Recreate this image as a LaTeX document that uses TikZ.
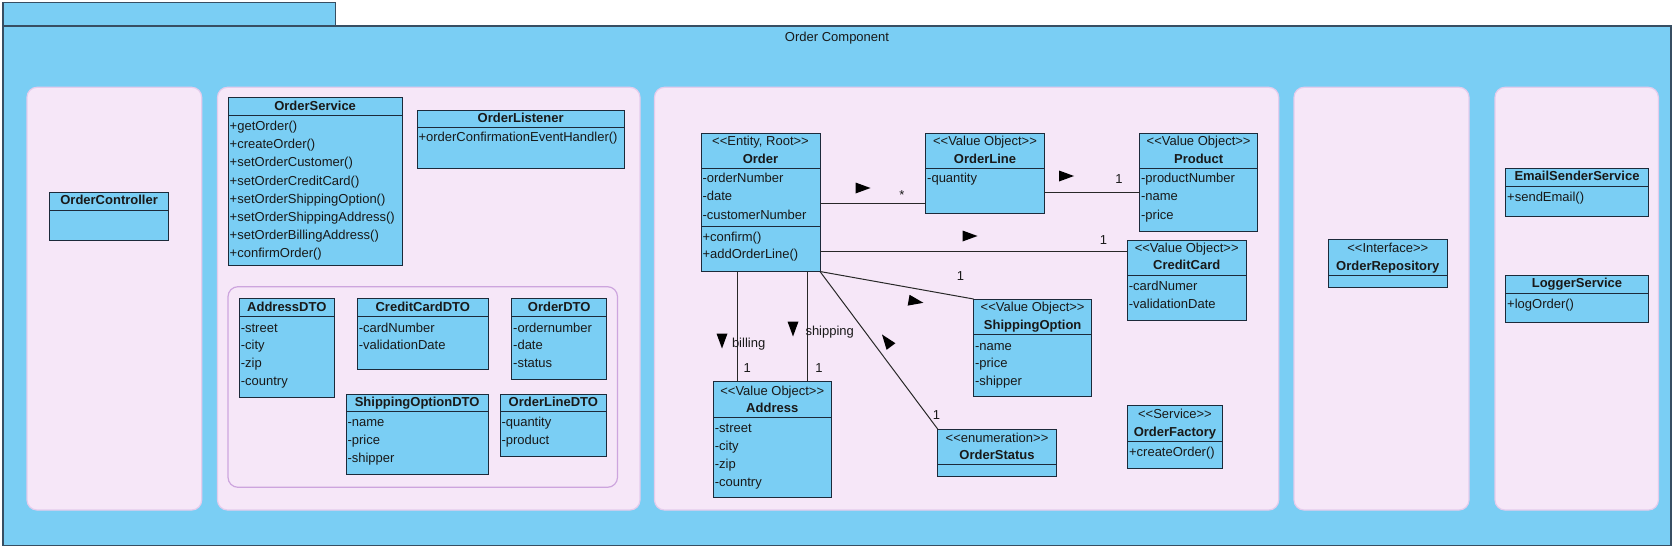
\documentclass[tikz,border=0pt]{standalone}
\usepackage{fontspec}
\setmainfont{Liberation Sans}[Ligatures=TeXOff]
\usetikzlibrary{calc}
\definecolor{framefill}{RGB}{122,206,244}
\definecolor{frameline}{RGB}{55,78,98}
\definecolor{boxfill}{RGB}{122,206,244}
\definecolor{boxline}{RGB}{28,42,58}
\definecolor{panelfill}{RGB}{246,231,248}
\definecolor{panelline}{RGB}{228,204,236}
\definecolor{dtoline}{RGB}{205,165,222}
\definecolor{txtc}{RGB}{25,25,25}
\definecolor{linec}{RGB}{40,40,40}
\tikzset{
  cls/.style={draw=boxline, fill=boxfill, line width=1pt, inner sep=0pt, outer sep=0pt, anchor=north west},
  sepline/.style={draw=boxline, line width=1pt},
  txt/.style={inner sep=0pt, outer sep=0pt, text height=9.4pt, text depth=2.6pt, font=\fontsize{13}{15}\selectfont, text=txtc},
  ttl/.style={txt, font=\fontsize{13}{15}\selectfont\bfseries},
  attr/.style={txt, anchor=west},
  panel/.style={draw=panelline, fill=panelfill, rounded corners=10pt, line width=1.2pt},
  assoc/.style={draw=linec, line width=1pt},
  frame/.style={draw=frameline, fill=framefill, line width=1.4pt},
}
\newcommand{\uclass}[5]{\node[cls, minimum width={#4-#2}, minimum height={#5-#3}] (#1) at (#2,#3) {};}
\newcommand{\usep}[2]{\coordinate (tmp) at (0,#2); \draw[sepline] (#1.west |- tmp) -- (#1.east |- tmp);}
\newcommand{\ctitle}[3]{\coordinate (tmp) at (0,#2); \node[ttl] at (#1.north |- tmp) {#3};}
\newcommand{\cstereo}[3]{\coordinate (tmp) at (0,#2); \node[txt] at (#1.north |- tmp) {#3};}
\newcommand{\rows}[4]{\foreach \r [count=\i from 0] in {#4} {\coordinate (tmp) at (0,{#2+#3*\i}); \node[attr, xshift=1.5pt] at (#1.west |- tmp) {\r};}}
\newcommand{\dirtri}[3]{\fill[black, shift={(#1,#2)}, rotate=#3] (7.5,0) -- (-7.5,5.5) -- (-7.5,-5.5) -- cycle;}
\begin{document}
\begin{tikzpicture}[x=1pt,y=-1pt]
\useasboundingbox (0,0) rectangle (1676,551);
% frame
\draw[frame] (2.8,26) rectangle (1671,545.7);
\draw[frame] (2.8,2.7) rectangle (335.7,26);
\node[txt] (title) at (837,38.5) {Order Component};
% panels
\draw[panel] (27,87.3) rectangle (201.7,510);
\draw[panel] (217.5,87.3) rectangle (640,510);
\draw[panel] (654.5,87.3) rectangle (1278.7,510);
\draw[panel] (1294,87.3) rectangle (1469,510);
\draw[panel] (1495,87.3) rectangle (1658.4,510);
\draw[panel, draw=dtoline] (228,286.7) rectangle (617.5,487.3);

% classes
\uclass{ctrl}{49.4}{192.3}{168.8}{240}
\usep{ctrl}{210.3}
\ctitle{ctrl}{201.3}{OrderController}

\uclass{svc}{228.2}{97.7}{402.1}{265.5}
\usep{svc}{115.7}
\ctitle{svc}{106.7}{OrderService}
\rows{svc}{127.3}{18.1}{+getOrder(),+createOrder(),+setOrderCustomer(),+setOrderCreditCard(),+setOrderShippingOption(),+setOrderShippingAddress(),+setOrderBillingAddress(),+confirmOrder()}

\uclass{lst}{417}{110.7}{624.3}{168.3}
\usep{lst}{127.7}
\ctitle{lst}{119.2}{OrderListener}
\rows{lst}{138.3}{18}{+orderConfirmationEventHandler()}

\uclass{adto}{239.3}{298.7}{334.3}{397}
\usep{adto}{316.7}
\ctitle{adto}{307.7}{AddressDTO}
\rows{adto}{328.7}{17.8}{-street,-city,-zip,-country}

\uclass{ccdto}{357.3}{298.7}{488.3}{369.3}
\usep{ccdto}{316.7}
\ctitle{ccdto}{307.7}{CreditCardDTO}
\rows{ccdto}{328.7}{17.8}{-cardNumber,-validationDate}

\uclass{odto}{511.7}{298.7}{606.7}{379}
\usep{odto}{316.7}
\ctitle{odto}{307.7}{OrderDTO}
\rows{odto}{328.7}{17.8}{-ordernumber,-date,-status}

\uclass{sodto}{346}{394}{488.3}{474}
\usep{sodto}{411.7}
\ctitle{sodto}{402.8}{ShippingOptionDTO}
\rows{sodto}{423.3}{17.8}{-name,-price,-shipper}

\uclass{oldto}{500}{394}{606.7}{456.7}
\usep{oldto}{411.7}
\ctitle{oldto}{402.8}{OrderLineDTO}
\rows{oldto}{423.3}{17.8}{-quantity,-product}

% connectors (under the domain boxes)
\coordinate (yOL) at (0,203);
\coordinate (yPR) at (0,192.3);
\coordinate (yCC) at (0,251.7);
\coordinate (xB) at (737,0);
\coordinate (xS) at (807.8,0);

\uclass{order}{701}{133}{820}{271.5}
\uclass{ol}{925.7}{133}{1044.3}{213.7}
\uclass{prod}{1139.6}{133}{1257.7}{231.7}
\uclass{cc}{1127.4}{240}{1246}{320}
\uclass{so}{973.5}{299}{1091.8}{396.7}
\uclass{addr}{713.3}{381.7}{831.2}{497.7}
\uclass{ost}{937.8}{429.2}{1056.3}{476.4}

\draw[assoc] (order.east |- yOL) -- (ol.west |- yOL);
\draw[assoc] (ol.east |- yPR) -- (prod.west |- yPR);
\draw[assoc] (order.east |- yCC) -- (cc.west |- yCC);
\draw[assoc] (order.south east) -- (so.north west);
\draw[assoc] (order.south east) -- (ost.north west);
\draw[assoc] (order.south -| xB) -- (addr.north -| xB);
\draw[assoc] (order.south -| xS) -- (addr.north -| xS);

\cstereo{order}{142}{<<Entity, Root>>}
\ctitle{order}{160.3}{Order}
\usep{order}{168.7}
\rows{order}{179.3}{18.2}{-orderNumber,-date,-customerNumber}
\usep{order}{226.7}
\rows{order}{237.8}{17.5}{+confirm(),+addOrderLine()}

\cstereo{ol}{142}{<<Value Object>>}
\ctitle{ol}{160.3}{OrderLine}
\usep{ol}{168.7}
\rows{ol}{179.3}{18}{-quantity}

\cstereo{prod}{142}{<<Value Object>>}
\ctitle{prod}{160.3}{Product}
\usep{prod}{168.7}
\rows{prod}{179.3}{18.2}{-productNumber,-name,-price}

\cstereo{cc}{249}{<<Value Object>>}
\ctitle{cc}{266.5}{CreditCard}
\usep{cc}{275}
\rows{cc}{286.7}{18.3}{-cardNumer,-validationDate}

\cstereo{so}{308.3}{<<Value Object>>}
\ctitle{so}{325.7}{ShippingOption}
\usep{so}{334.3}
\rows{so}{346.7}{17.7}{-name,-price,-shipper}

\cstereo{addr}{392.3}{<<Value Object>>}
\ctitle{addr}{408.7}{Address}
\usep{addr}{417.3}
\rows{addr}{429.3}{17.8}{-street,-city,-zip,-country}

\cstereo{ost}{438.7}{<<enumeration>>}
\ctitle{ost}{456}{OrderStatus}
\usep{ost}{464.8}

\uclass{ofac}{1127.6}{405.5}{1222.3}{468.3}
\cstereo{ofac}{414.7}{<<Service>>}
\ctitle{ofac}{432.7}{OrderFactory}
\usep{ofac}{441.7}
\rows{ofac}{453.3}{18}{+createOrder()}

\uclass{orep}{1328.3}{239.3}{1447.3}{287.3}
\cstereo{orep}{249.3}{<<Interface>>}
\ctitle{orep}{266.7}{OrderRepository}
\usep{orep}{275.3}

\uclass{email}{1505.7}{168.3}{1648.3}{216}
\usep{email}{186}
\ctitle{email}{177.2}{EmailSenderService}
\rows{email}{197.7}{18}{+sendEmail()}

\uclass{logs}{1505.7}{275}{1648.3}{322.7}
\usep{logs}{293.3}
\ctitle{logs}{284.2}{LoggerService}
\rows{logs}{305}{18}{+logOrder()}

% direction triangles
\dirtri{863}{188}{0}
\dirtri{1066.5}{176}{0}
\dirtri{970}{236}{0}
\dirtri{916}{301.5}{-10}
\dirtri{722}{341}{-90}
\dirtri{793}{329}{-90}
\dirtri{886.5}{340.5}{126.8}

% multiplicities and role names
\node[txt] (mOL) at (902,196.5) {*};
\node[txt] (mPR) at (1119,180) {1};
\node[txt] (mCC) at (1103.6,240.7) {1};
\node[txt] (mSO) at (960.5,277.3) {1};
\node[txt] (mB) at (747.3,369.3) {1};
\node[txt] (mS) at (819,369.3) {1};
\node[txt] (mOS) at (936.5,416) {1};
\node[attr] (lB) at (732,344) {billing};
\node[attr] (lS) at (805.5,331.7) {shipping};
\end{tikzpicture}
\end{document}
